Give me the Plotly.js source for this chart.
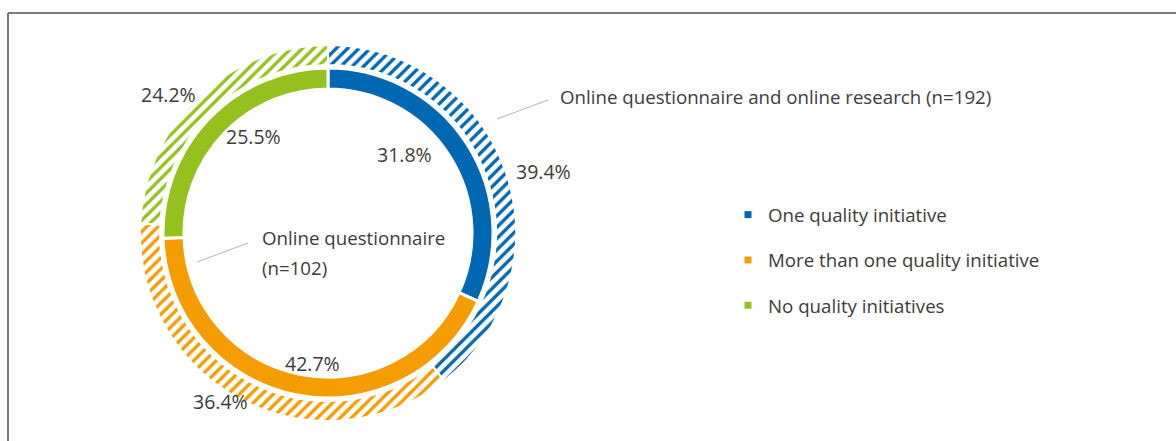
<!DOCTYPE html>
<html>
<head>
<meta charset="utf-8">
<script src="https://cdn.plot.ly/plotly-3.0.1.min.js"></script>
<style>html,body{margin:0;padding:0;background:#fff;}#chart{width:1176px;height:441px;}</style>
</head>
<body>
<div id="chart"></div>
<script>
// ---- data ----
const categories = ["One quality initiative", "More than one quality initiative", "No quality initiatives"];
const colors = ["#0067b2", "#f49c00", "#95c11f"];
const innerValues = [31.8, 42.7, 25.5];   // Online questionnaire (n=102)
const outerValues = [39.4, 36.4, 24.2];   // Online questionnaire and online research (n=192)
const innerNameLines = ["Online questionnaire", "(n=102)"];
const outerName = "Online questionnaire and online research (n=192)";

const W = 1176, H = 441;
const px = x => x / W;
const py = y => 1 - y / H;
const txt = "#3c3c3c";
const FONT = "Open Sans, Noto Sans, sans-serif";
const FS = 18.7;

// pie geometry (pixels)
const cx = 328, cy = 233;
const rOuter = 188, rOuterHole = 168;
const rInner = 165, rInnerHole = 144;

const traces = [
  {
    type: "pie", name: outerName, labels: categories, values: outerValues,
    sort: false, direction: "clockwise", rotation: 0,
    hole: rOuterHole / rOuter, textinfo: "none", hoverinfo: "label+value",
    showlegend: false,
    domain: {x: [px(cx - rOuter), px(cx + rOuter)], y: [py(cy + rOuter), py(cy - rOuter)]},
    marker: {colors: colors, line: {color: "#ffffff", width: 2},
      pattern: {shape: "/", bgcolor: "#ffffff", fgcolor: colors, size: 8, solidity: 0.42}}
  },
  {
    type: "pie", name: innerNameLines.join(" "), labels: categories, values: innerValues,
    sort: false, direction: "clockwise", rotation: 0,
    hole: rInnerHole / rInner, textinfo: "none", hoverinfo: "label+value",
    showlegend: false,
    domain: {x: [px(cx - rInner), px(cx + rInner)], y: [py(cy + rInner), py(cy - rInner)]},
    marker: {colors: colors, line: {color: "#ffffff", width: 3}}
  }
];
// legend entries
categories.forEach((c, i) => {
  traces.push({type: "scatter", x: [null], y: [null], mode: "markers", name: c,
    legendgroup: "g" + i, showlegend: true,
    marker: {symbol: "square", size: 7, color: colors[i]}});
});

// percentage label positions (pixels, text centre)
const innerLabelPos = [[404, 154], [312, 363], [253, 136]];
const outerLabelPos = [[543, 171], [220, 401], [168, 95]];
const annotations = [];
function pctLabel(v, pos) {
  return {x: px(pos[0]), y: py(pos[1]), xref: "paper", yref: "paper",
    xanchor: "center", yanchor: "middle",
    text: v.toFixed(1) + "%", showarrow: false, font: {size: 19.5, color: txt, family: FONT}};
}
innerValues.forEach((v, i) => annotations.push(pctLabel(v, innerLabelPos[i])));
outerValues.forEach((v, i) => annotations.push(pctLabel(v, outerLabelPos[i])));
annotations.push({
  x: px(558), y: py(97), xref: "paper", yref: "paper", xanchor: "left", yanchor: "middle",
  text: outerName, showarrow: false, font: {size: FS, color: txt, family: FONT}
});
innerNameLines.forEach((t, i) => annotations.push({
  x: px(260), y: py(237 + 30 * i), xref: "paper", yref: "paper", xanchor: "left", yanchor: "middle",
  text: t, showarrow: false, font: {size: FS, color: txt, family: FONT}
}));

const shapes = [
  // frame
  {type: "line", xref: "paper", yref: "paper", x0: px(8), x1: 1, y0: py(13), y1: py(13), line: {color: "#7a7a7a", width: 2}},
  {type: "line", xref: "paper", yref: "paper", x0: px(8), x1: px(8), y0: py(13), y1: 0, line: {color: "#7a7a7a", width: 2}},
  // leader lines
  {type: "line", xref: "paper", yref: "paper", x0: px(497), y0: py(119), x1: px(548), y1: py(100), line: {color: "#b4b4b4", width: 1}},
  {type: "line", xref: "paper", yref: "paper", x0: px(197), y0: py(262), x1: px(248), y1: py(243), line: {color: "#b4b4b4", width: 1}}
];

const layout = {
  width: W, height: H, margin: {l: 0, r: 0, t: 0, b: 0},
  paper_bgcolor: "#ffffff", plot_bgcolor: "#ffffff",
  xaxis: {visible: false}, yaxis: {visible: false},
  showlegend: true,
  legend: {x: px(728), y: py(196), xanchor: "left", yanchor: "top",
    font: {size: FS, color: txt, family: FONT}, tracegroupgap: 18,
    bgcolor: "rgba(0,0,0,0)", borderwidth: 0},
  annotations: annotations, shapes: shapes,
  font: {family: FONT, color: txt}
};

Plotly.newPlot("chart", traces, layout, {displayModeBar: false, staticPlot: true});
</script>
</body>
</html>
